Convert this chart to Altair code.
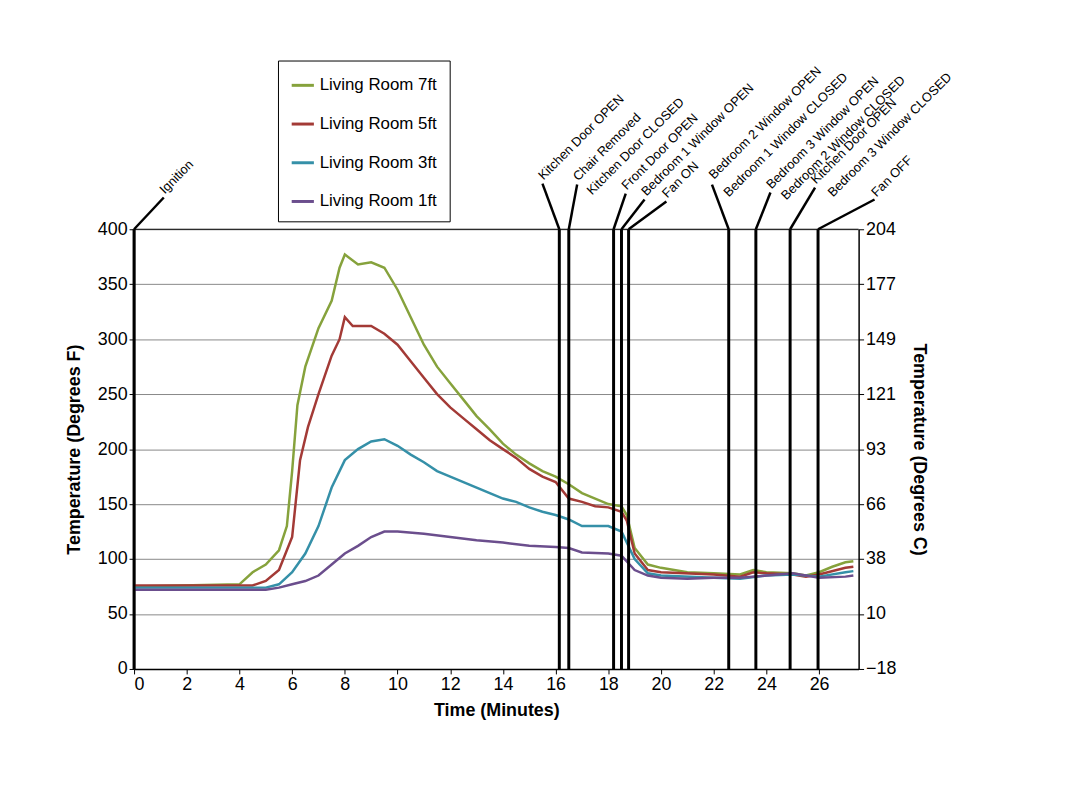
import altair as alt
import pandas as pd

t7 = [0,4,4.5,5,5.5,5.8,6,6.2,6.5,7,7.5,7.8,8,8.5,9,9.5,10,10.5,11,11.5,12,12.5,13,13.5,14,14.5,15,15.5,16,16.5,17,17.5,18,18.5,18.7,19,19.5,20,21,22,23,23.5,24,25,25.5,26,26.5,27,27.3]
v7 = [75,77,88,95,108,130,180,240,275,310,335,365,377,368,370,365,345,320,295,275,260,245,230,218,205,195,187,180,175,168,160,155,150,148,140,110,95,92,88,87,86,90,88,87,85,88,93,97,98]
t5 = [0,4.5,5,5.5,6,6.3,6.6,7,7.5,7.8,8,8.3,9,9.5,10,10.5,11,11.5,12,12.5,13,13.5,14,14.5,15,15.5,16,16.5,17,17.5,18,18.5,18.7,19,19.5,20,22,23,23.5,24,25,25.5,26,27,27.3]
v5 = [76,76,80,90,120,190,220,250,285,300,320,312,312,305,295,280,265,250,238,228,218,208,200,192,182,175,170,155,152,148,147,143,135,105,90,88,86,84,88,87,86,84,86,92,93]
t3 = [0,5,5.5,6,6.5,7,7.5,8,8.5,9,9.5,10,10.5,11,11.5,12,12.5,13,13.5,14,14.5,15,15.5,16,16.5,17,18,18.5,19,19.5,20,22,23,24,25,26,27,27.3]
v3 = [74,74,77,88,105,130,165,190,200,207,209,203,195,188,180,175,170,165,160,155,152,147,143,140,136,130,130,125,100,87,85,83,82,85,86,84,88,89]
t1 = [0,5,5.5,6,6.5,7,7.5,8,8.5,9,9.5,10,11,12,13,14,15,16,16.5,17,18,18.5,19,19.5,20,21,22,23,24,25,26,27,27.3]
v1 = [72,72,74,77,80,85,95,105,112,120,125,125,123,120,117,115,112,111,110,106,105,103,90,85,83,82,83,83,85,87,83,84,85]

series_names = ["Living Room 7ft","Living Room 5ft","Living Room 3ft","Living Room 1ft"]
colors = ["#86a23c","#a33a36","#3590a8","#6b4e8d"]

rows = []
for n,(ts,vs) in zip(series_names,[(t7,v7),(t5,v5),(t3,v3),(t1,v1)]):
    rows += [{"t":a,"v":b,"s":n} for a,b in zip(ts,vs)]
df = pd.DataFrame(rows)

event_times = [0,16.14,16.5,18.2,18.5,18.77,22.57,23.6,24.9,25.96]
events = pd.DataFrame({"t":event_times})

labels = ["Ignition","Kitchen Door OPEN","Chair Removed","Kitchen Door CLOSED","Front Door OPEN",
          "Bedroom 1 Window OPEN","Fan ON","Bedroom 2 Window OPEN","Bedroom 1 Window CLOSED",
          "Bedroom 3 Window OPEN","Bedroom 2 Window CLOSED","Kitchen Door OPEN",
          "Bedroom 3 Window CLOSED","Fan OFF"]
label_line = [0,16.14,16.5,None,18.2,18.5,18.77,22.57,None,23.6,None,24.9,None,25.96]
lead_px = [(165,196),(547,182),(582,183),None,(631,192),(650,198),(672,200),(718,183),None,(777,191),None,(822,186),None,(882,198)]
text_px = [(166,193),(548,179),(583,180),(597,194),(632,189),(652,195),(673,197),(720,178),(735,196),(778,188),(793,199),(823,183),(840,196),(884,196)]

def px2x(p): return (p-135)/26.58
def py2y(p): return (671-p)/1.1075

lead_rows = []
for ln, lp in zip(label_line, lead_px):
    if ln is None: continue
    lead_rows.append({"t":ln,"v":400,"t2":px2x(lp[0]),"v2":py2y(lp[1])})
leads = pd.DataFrame(lead_rows)
texts = pd.DataFrame({"t":[px2x(p[0]) for p in text_px],"v":[py2y(p[1]) for p in text_px],"label":labels})

xs = alt.Scale(domain=[0,27.5], nice=False)
ys = alt.Scale(domain=[0,400], nice=False)
X = alt.X("t:Q", scale=xs,
          axis=alt.Axis(values=list(range(0,27,2)), title="Time (Minutes)", grid=False))
Y = alt.Y("v:Q", scale=ys,
          axis=alt.Axis(values=list(range(0,401,50)), title="Temperature (Degrees F)", grid=True))

lines = alt.Chart(df).mark_line(strokeWidth=2.5).encode(
    x=X, y=Y,
    color=alt.Color("s:N", scale=alt.Scale(domain=series_names, range=colors),
                    sort=series_names,
                    legend=alt.Legend(title=None, orient="none", legendX=145, legendY=-170,
                                      symbolType="stroke", symbolStrokeWidth=3, symbolSize=500,
                                      labelFontSize=17, labelFont="Liberation Sans",
                                      strokeColor="black", padding=12, rowPadding=18,
                                      fillColor="white", labelColor="black")))

rules = alt.Chart(events).mark_rule(color="black", strokeWidth=3).encode(
    x=alt.X("t:Q", scale=xs), y=alt.value(0), y2=alt.value(443))
lead = alt.Chart(leads).mark_rule(color="black", strokeWidth=2.5, clip=False).encode(
    x=alt.X("t:Q", scale=xs), y=alt.Y("v:Q", scale=ys), x2="t2:Q", y2="v2:Q")
txt = alt.Chart(texts).mark_text(angle=315, align="left", baseline="alphabetic",
                                 fontSize=13, font="Liberation Sans", clip=False, color="black").encode(
    x=alt.X("t:Q", scale=xs), y=alt.Y("v:Q", scale=ys), text="label:N")
top = alt.Chart(pd.DataFrame({"a":[0]})).mark_rule(color="black", strokeWidth=1).encode(
    x=alt.value(0), x2=alt.value(730), y=alt.value(0))

main = alt.layer(lines, rules, lead, txt, top)

right = alt.Chart(pd.DataFrame({"w":[0,400]})).mark_point(opacity=0).encode(
    y=alt.Y("w:Q", scale=alt.Scale(domain=[0,400], nice=False),
            axis=alt.Axis(orient="right", values=list(range(0,401,50)), grid=False,
                          title="Temperature (Degrees C)",
                          labelExpr="format((datum.value-32)*5/9, '.0f')")))

chart = alt.layer(main, right).resolve_scale(y="independent").properties(
    width=730, height=443,
    autosize=alt.AutoSizeParams(type="none"),
    padding={"left":127,"top":220,"right":218,"bottom":115},
).configure_view(stroke=None).configure_axis(
    labelFontSize=18, titleFontSize=18, labelFont="Liberation Sans", titleFont="Liberation Sans",
    labelColor="black", titleColor="black", domainColor="black", tickColor="black",
    gridColor="#888888", gridWidth=1, titleFontWeight="bold", domainWidth=1.5
).configure_axisY(titlePadding=14).configure_axisX(titlePadding=8)

chart.save("out.html", embed_options={"renderer":"svg","actions":False})
